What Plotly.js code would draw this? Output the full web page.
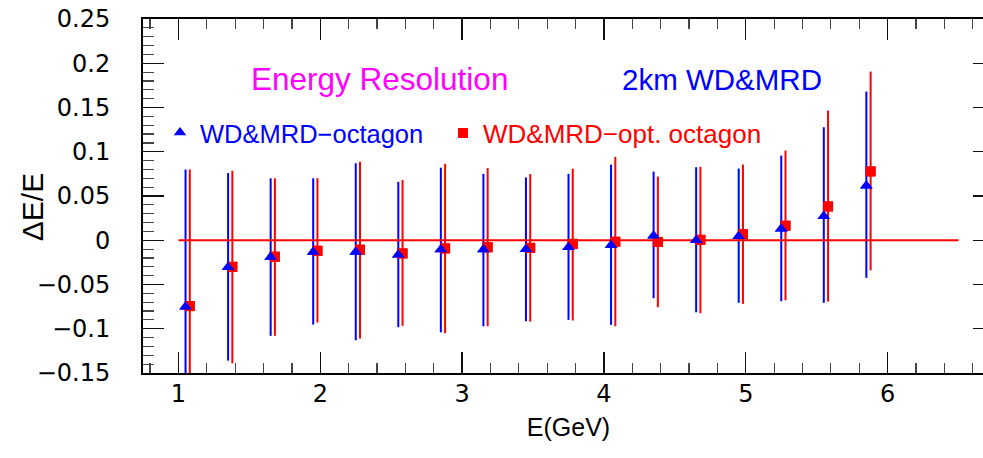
<!DOCTYPE html>
<html>
<head>
<meta charset="utf-8">
<script src="https://cdn.plot.ly/plotly-3.0.1.min.js"></script>
<style>
  html, body { margin: 0; padding: 0; background: #fff; overflow: hidden; }
  #chart { width: 1000px; height: 458px; }
</style>
</head>
<body>
<div id="chart"></div>
<script>
// Beam energies (GeV) for the two detector configurations
const energyOct = [1.05, 1.35, 1.65, 1.95, 2.25, 2.55, 2.85, 3.15, 3.45, 3.75, 4.05, 4.35, 4.65, 4.95, 5.25, 5.55, 5.85];
const energyOpt = [1.08, 1.38, 1.68, 1.98, 2.28, 2.58, 2.88, 3.18, 3.48, 3.78, 4.08, 4.38, 4.68, 4.98, 5.28, 5.58, 5.88];

// WD&MRD-octagon: mean ΔE/E with upper / lower ends of the spread
const meanOct = [-0.075, -0.0305, -0.019, -0.0133, -0.0133, -0.0164, -0.0105, -0.0105, -0.0102, -0.0079, -0.0056, 0.005, 0.0, 0.0045, 0.0129, 0.0271, 0.0616];
const highOct = [0.080, 0.076, 0.070, 0.070, 0.087, 0.066, 0.082, 0.075, 0.071, 0.075, 0.0855, 0.0776, 0.0825, 0.081, 0.0957, 0.1277, 0.168];
const lowOct  = [-0.23, -0.136, -0.108, -0.0953, -0.113, -0.0983, -0.104, -0.0972, -0.0915, -0.090, -0.0956, -0.0655, -0.0814, -0.0707, -0.0689, -0.0707, -0.0425];

// WD&MRD-opt. octagon
const meanOpt = [-0.0744, -0.030, -0.0186, -0.0119, -0.0107, -0.0149, -0.0092, -0.0079, -0.0086, -0.0041, -0.0017, -0.0019, 0.0005, 0.0068, 0.0164, 0.0382, 0.0778];
const highOpt = [0.080, 0.0785, 0.070, 0.070, 0.0887, 0.068, 0.0864, 0.0815, 0.0748, 0.0808, 0.0942, 0.072, 0.083, 0.0855, 0.1014, 0.1465, 0.1906];
const lowOpt  = [-0.228, -0.139, -0.108, -0.093, -0.111, -0.0967, -0.105, -0.0972, -0.092, -0.0907, -0.0972, -0.0757, -0.0825, -0.0719, -0.0678, -0.0693, -0.0339];

// Reference line at ΔE/E = 0
const refLineX = [1, 6.5];
const refLineY = [0, 0];

const BLUE = '#0000ff';
const RED = '#ff0000';
const TEXT_FONT = 'Liberation Sans, Arial, sans-serif';

const plusErr = (hi, mid) => hi.map((v, i) => v - mid[i]);
const minusErr = (lo, mid) => lo.map((v, i) => mid[i] - v);

function errTrace(x, y, hi, lo, color, symbol, size) {
  return {
    type: 'scatter', mode: 'markers', x: x, y: y, showlegend: false, hoverinfo: 'skip',
    marker: { color: color, symbol: symbol, size: size },
    error_y: { type: 'data', symmetric: false, array: plusErr(hi, y), arrayminus: minusErr(lo, y),
               width: 0, thickness: 2, color: color },
    cliponaxis: true
  };
}

function markerTrace(x, y, color, symbol, size, name, legendId) {
  return {
    type: 'scatter', mode: 'markers', x: x, y: y, name: name, legend: legendId,
    marker: { color: color, symbol: symbol, size: size }
  };
}

const traces = [
  errTrace(energyOpt, meanOpt, highOpt, lowOpt, RED, 'square', 10),
  errTrace(energyOct, meanOct, highOct, lowOct, BLUE, 'triangle-up', 11),
  { type: 'scatter', mode: 'lines', x: refLineX, y: refLineY, showlegend: false, hoverinfo: 'skip',
    line: { color: RED, width: 2 } },
  markerTrace(energyOpt, meanOpt, RED, 'square', 10, 'WD&amp;MRD−opt. octagon', 'legend2'),
  markerTrace(energyOct, meanOct, BLUE, 'triangle-up', 11, 'WD&amp;MRD−octagon', 'legend')
];

const axisCommon = {
  showline: true, linecolor: '#000', linewidth: 2, mirror: 'allticks',
  ticks: 'inside', tickcolor: '#111', tickwidth: 1.4,
  showgrid: false, zeroline: false,
  tickfont: { family: 'DejaVu Sans, sans-serif', size: 24, color: '#000' }
};

const legendCommon = {
  orientation: 'h', xanchor: 'left', y: 0.678, yanchor: 'middle',
  bgcolor: 'rgba(0,0,0,0)'
};

const layout = {
  width: 1000, height: 458,
  margin: { l: 143, r: 6, t: 19, b: 85 },
  paper_bgcolor: '#fff', plot_bgcolor: '#fff',
  showlegend: true,
  legend: Object.assign({}, legendCommon, {
    x: 0.02, font: { family: TEXT_FONT, size: 25.5, color: BLUE }
  }),
  legend2: Object.assign({}, legendCommon, {
    x: 0.3525, font: { family: TEXT_FONT, size: 26, color: RED }
  }),
  xaxis: Object.assign({}, axisCommon, {
    range: [0.75, 6.75], tick0: 0, dtick: 1, ticklen: 21,
    ticklabelstandoff: -2,
    minor: { dtick: 0.2, ticklen: 10, tickcolor: '#444', tickwidth: 1.2, ticks: 'inside' },
    title: { text: 'E(GeV)', font: { family: TEXT_FONT, size: 25, color: '#000' }, standoff: 12 }
  }),
  yaxis: Object.assign({}, axisCommon, {
    range: [-0.15, 0.25], tick0: 0, dtick: 0.05, ticklen: 21,
    ticklabelstandoff: 26,
    minor: { dtick: 0.01, ticklen: 11, tickcolor: '#444', tickwidth: 1.2, ticks: 'inside' }
  }),
  annotations: [
    { text: 'ΔE/E', xref: 'paper', yref: 'paper', x: -0.129, y: 0.469,
      xanchor: 'center', yanchor: 'middle', textangle: -90, showarrow: false,
      font: { family: TEXT_FONT, size: 30, color: '#000' } },
    { text: 'Energy Resolution', xref: 'x', yref: 'y', x: 1.50, y: 0.182,
      xanchor: 'left', yanchor: 'middle', showarrow: false,
      font: { family: TEXT_FONT, size: 31.5, color: '#ff00ff' } },
    { text: '2km WD&amp;MRD', xref: 'x', yref: 'y', x: 4.11, y: 0.182,
      xanchor: 'left', yanchor: 'middle', showarrow: false,
      font: { family: TEXT_FONT, size: 29.5, color: BLUE } }
  ]
};

Plotly.newPlot('chart', traces, layout, { staticPlot: true, displayModeBar: false });
</script>
</body>
</html>
